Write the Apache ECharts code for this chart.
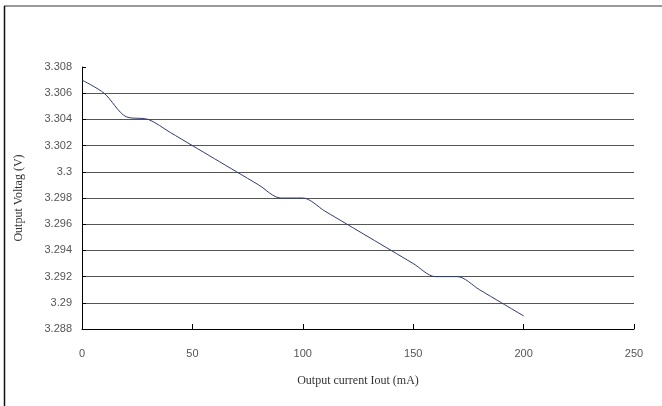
<!DOCTYPE html>
<html>
<head>
<meta charset="utf-8">
<script src="https://cdn.jsdelivr.net/npm/echarts@6/dist/echarts.min.js"></script>
<style>html,body{margin:0;padding:0;background:#fff}#c{width:662px;height:406px}</style>
</head>
<body>
<div id="c"></div>
<script>
var currents = [0, 10, 20, 30, 40, 50, 60, 70, 80, 90, 100, 110, 120, 130, 140, 150, 160, 170, 180, 190, 200];
var voltages = [3.307, 3.306, 3.3042, 3.304, 3.303, 3.302, 3.301, 3.300, 3.299, 3.298, 3.298, 3.297, 3.296, 3.295, 3.294, 3.293, 3.292, 3.292, 3.291, 3.290, 3.289];
var xTicks = [0, 50, 100, 150, 200, 250];
var yTickMin = 3.288, yTickMax = 3.308, yTickStep = 0.002;
var xName = 'Output current Iout (mA)';
var yName = 'Output Voltag (V)';

var chart = echarts.init(document.getElementById('c'), null, {renderer: 'canvas'});
var data = currents.map(function (c, i) { return [c, voltages[i]]; });
chart.setOption({
  animation: false,
  backgroundColor: '#fff',
  grid: {left: 82, right: 28, top: 67, bottom: 77},
  graphic: [
    {type: 'line', shape: {x1: 4, y1: 6, x2: 662, y2: 6}, style: {stroke: '#777', lineWidth: 1.5}},
    {type: 'line', shape: {x1: 4.5, y1: 6, x2: 4.5, y2: 406}, style: {stroke: '#111', lineWidth: 1.5}}
  ],
  xAxis: {
    type: 'value', min: xTicks[0], max: xTicks[xTicks.length - 1], interval: xTicks[1] - xTicks[0],
    name: xName, nameLocation: 'middle', nameGap: 46,
    nameTextStyle: {fontFamily: 'Liberation Serif', fontSize: 12, color: '#333'},
    axisLine: {show: true, lineStyle: {color: '#000', width: 1}},
    axisTick: {show: true, inside: true, length: 5, lineStyle: {color: '#000'}},
    axisLabel: {margin: 19, fontFamily: 'Liberation Sans', fontSize: 11, color: '#555'},
    splitLine: {show: false}
  },
  yAxis: {
    type: 'value', min: yTickMin, max: yTickMax, interval: yTickStep,
    name: yName, nameLocation: 'middle', nameGap: 57,
    nameTextStyle: {fontFamily: 'Liberation Serif', fontSize: 12, color: '#333'},
    axisLine: {show: true, lineStyle: {color: '#000', width: 1}},
    axisTick: {show: true, inside: true, length: 4, lineStyle: {color: '#000'}},
    axisLabel: {margin: 10, fontFamily: 'Liberation Sans', fontSize: 11, color: '#555',
      formatter: function (v) { return String(parseFloat(v.toFixed(3))); }},
    splitLine: {show: true, showMinLine: false, showMaxLine: false, lineStyle: {color: '#555', width: 1}}
  },
  series: [{
    type: 'line', data: data, smooth: 0.3, showSymbol: false,
    lineStyle: {color: '#2e3c6e', width: 1}
  }]
});
</script>
</body>
</html>
